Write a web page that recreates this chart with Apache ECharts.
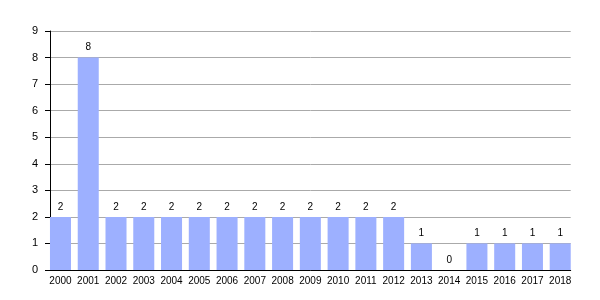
<!DOCTYPE html>
<html><head><meta charset="utf-8">
<script src="https://cdn.jsdelivr.net/npm/echarts@6/dist/echarts.min.js"></script>
<style>html,body{margin:0;padding:0;background:#fff}#c{width:600px;height:300px}</style>
</head><body><div id="c"></div>
<script>
const categories = ['2000','2001','2002','2003','2004','2005','2006','2007','2008','2009','2010','2011','2012','2013','2014','2015','2016','2017','2018'];
const values = [2,8,2,2,2,2,2,2,2,2,2,2,2,1,0,1,1,1,1];
const yTicks = {min:0, max:9, interval:1};
const chart = echarts.init(document.getElementById('c'), null, {renderer:'canvas'});
const font = 'Liberation Sans, Arial, sans-serif';
chart.setOption({
  animation:false,
  grid:[
    {left:50,right:29.3,top:31,bottom:30},
    {left:46.6,right:25.9,top:31,bottom:30}
  ],
  xAxis:[
    {type:'category',gridIndex:0,data:[''],
      axisLine:{lineStyle:{color:'#000',width:1}},
      axisTick:{show:false},axisLabel:{show:false}},
    {type:'category',gridIndex:1,data:categories,
      axisLine:{show:false},axisTick:{show:false},
      axisLabel:{color:'#000',fontFamily:font,fontSize:10,margin:6,interval:0}}
  ],
  yAxis:[
    {type:'value',gridIndex:0,min:yTicks.min,max:yTicks.max,interval:yTicks.interval,
      axisLine:{show:true,lineStyle:{color:'#000',width:1}},
      axisTick:{show:true,length:5,lineStyle:{color:'#000'}},
      axisLabel:{color:'#000',fontFamily:font,fontSize:11,margin:12},
      splitLine:{lineStyle:{color:'#aaa',width:1}}},
    {type:'value',gridIndex:1,min:yTicks.min,max:yTicks.max,interval:yTicks.interval,show:false,
      splitLine:{show:false}}
  ],
  series:[{type:'bar',xAxisIndex:1,yAxisIndex:1,data:values,barCategoryGap:'24.3%',
    itemStyle:{color:'#9db0ff'},
    label:{show:true,position:'top',color:'#000',fontFamily:font,fontSize:10,distance:5}}]
});
</script></body></html>
